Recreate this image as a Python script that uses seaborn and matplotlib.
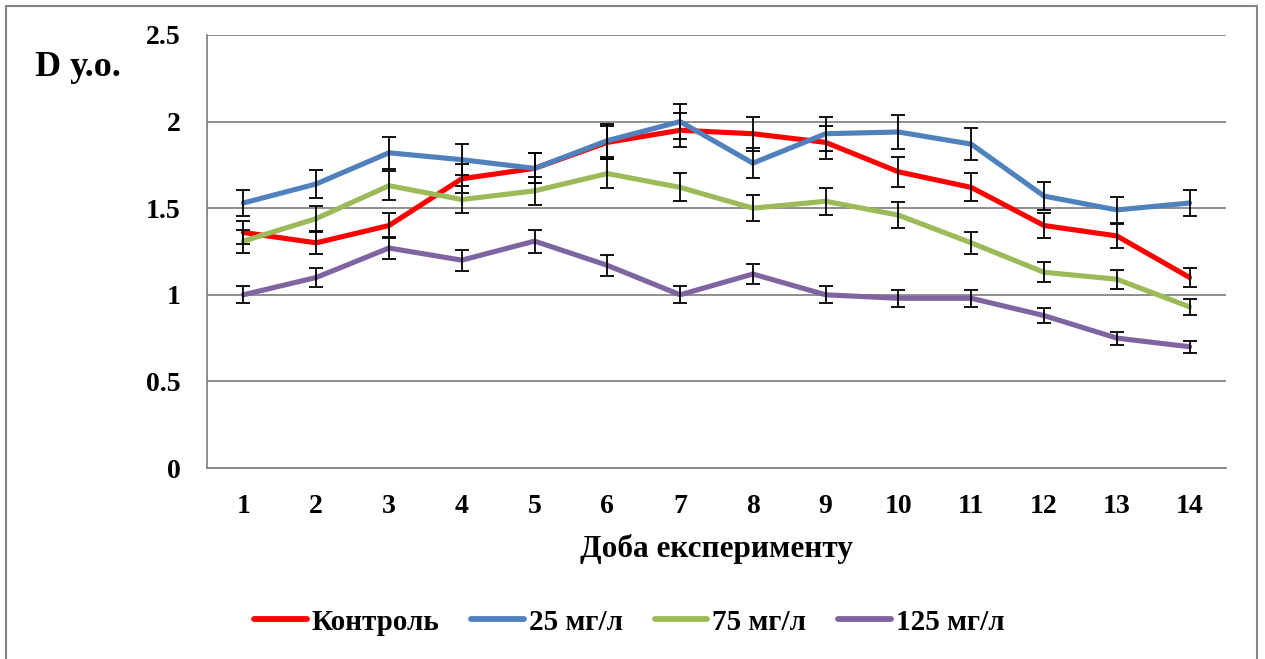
import numpy as np
import pandas as pd
import matplotlib
matplotlib.use("Agg")
import matplotlib.pyplot as plt
import seaborn as sns
from matplotlib.patches import Rectangle

days = [1, 2, 3, 4, 5, 6, 7, 8, 9, 10, 11, 12, 13, 14]
series_names = ["Контроль", "25 мг/л", "75 мг/л", "125 мг/л"]

control = [1.36, 1.30, 1.40, 1.67, 1.73, 1.88, 1.95, 1.93, 1.88, 1.71, 1.62, 1.40, 1.34, 1.10]
c25 = [1.53, 1.64, 1.82, 1.78, 1.73, 1.89, 2.00, 1.76, 1.93, 1.94, 1.87, 1.57, 1.49, 1.53]
c75 = [1.31, 1.44, 1.63, 1.55, 1.60, 1.70, 1.62, 1.50, 1.54, 1.46, 1.30, 1.13, 1.09, 0.93]
c125 = [1.00, 1.10, 1.27, 1.20, 1.31, 1.17, 1.00, 1.12, 1.00, 0.98, 0.98, 0.88, 0.75, 0.70]

err_control = [0.068, 0.065, 0.070, 0.084, 0.087, 0.094, 0.098, 0.097, 0.094, 0.086, 0.081, 0.070, 0.067, 0.055]
err_c25 = [0.077, 0.082, 0.091, 0.089, 0.087, 0.095, 0.100, 0.088, 0.097, 0.097, 0.094, 0.079, 0.075, 0.077]
err_c75 = [0.066, 0.072, 0.082, 0.078, 0.080, 0.085, 0.081, 0.075, 0.077, 0.073, 0.065, 0.057, 0.055, 0.047]
err_c125 = [0.050, 0.055, 0.064, 0.060, 0.066, 0.059, 0.050, 0.056, 0.050, 0.049, 0.049, 0.044, 0.038, 0.035]

colors = ["#FF0000", "#4F81BD", "#9BBB59", "#8064A2"]

values = [control, c25, c75, c125]
errors = [err_control, err_c25, err_c75, err_c125]

rows = []
for name, vals, errs in zip(series_names, values, errors):
    for i, (d, v, e) in enumerate(zip(days, vals, errs)):
        rows.append({"pos": i, "day": d, "value": v, "err": e, "series": name})
df = pd.DataFrame(rows)

sns.set_theme(style="white")
plt.rcParams["font.family"] = ["Liberation Serif", "DejaVu Serif"]
plt.rcParams["font.weight"] = "bold"
plt.rcParams["text.color"] = "black"
plt.rcParams["axes.labelcolor"] = "black"
plt.rcParams["xtick.labelcolor"] = "black"
plt.rcParams["ytick.labelcolor"] = "black"

fig = plt.figure(figsize=(12.65, 6.59), dpi=100)
ax = fig.add_axes([207 / 1265, 1 - 468 / 659, (1226 - 207) / 1265, (468 - 35) / 659])

sns.lineplot(data=df, x="pos", y="value", hue="series", hue_order=series_names,
             palette=colors, linewidth=3.7, ax=ax, legend=True, zorder=3,
             solid_capstyle="round", solid_joinstyle="round")

for name in series_names:
    sub = df[df["series"] == name]
    ax.errorbar(sub["pos"], sub["value"], yerr=sub["err"], fmt="none",
                ecolor="black", elinewidth=1.3, capsize=5, capthick=1.3, zorder=4)

grid_c = "#868686"
ax.set_ylim(0, 2.5)
ax.set_xlim(-0.5, 13.5)
ax.set_yticks([0, 0.5, 1, 1.5, 2, 2.5])
ax.set_yticklabels(["0", "0.5", "1", "1.5", "2", "2.5"])
ax.set_xticks(range(len(days)))
ax.set_xticklabels([str(d) for d in days])
ax.set_xticks(np.arange(-0.5, 14, 1), minor=True)
ax.tick_params(axis="x", which="major", length=0, pad=19, labelsize=20, labelcolor="black")
ax.tick_params(axis="x", which="minor", length=6, width=1.3, color=grid_c, direction="out")
ax.tick_params(axis="y", which="major", length=6, width=1.3, color=grid_c, direction="out", pad=13,
               labelsize=20, labelcolor="black")
ax.yaxis.grid(True, color=grid_c, linewidth=1.3)
ax.xaxis.grid(False)
for lab in ax.get_xticklabels() + ax.get_yticklabels():
    lab.set_fontweight("bold")
ax.spines["top"].set_visible(False)
ax.spines["right"].set_visible(False)
ax.spines["left"].set_color(grid_c)
ax.spines["bottom"].set_color(grid_c)
ax.spines["left"].set_linewidth(1.3)
ax.spines["bottom"].set_linewidth(1.3)

ax.set_ylabel("")
ax.set_xlabel("Доба експерименту", fontsize=22.5, fontweight="bold", color="black")
ax.xaxis.set_label_coords((716 - 207) / (1226 - 207), -(549 - 468) / (468 - 35))
ax.xaxis.label.set_va("center")

fig.text(35 / 1265, 1 - 68 / 659, "D у.о.", fontsize=26, fontweight="bold", ha="left", va="center",
         color="black")

handles, labels = ax.get_legend_handles_labels()
leg = ax.legend(handles, labels, loc="center left", bbox_to_anchor=(254 / 1265, 1 - 622 / 659),
                bbox_transform=fig.transFigure, ncol=4, frameon=False, handlelength=1.8,
                handletextpad=0.17, columnspacing=1.1, borderaxespad=0, borderpad=0,
                prop={"weight": "bold", "size": 21})
for h in leg.get_lines():
    h.set_linewidth(4.2)
for t in leg.get_texts():
    t.set_color("black")

fig.patches.append(Rectangle((6 / 1265, -0.05), (1257 - 6) / 1265, 1.05 - 6 / 659,
                             transform=fig.transFigure, fill=False, edgecolor="#868686",
                             linewidth=1.5, zorder=0))

fig.savefig("out.png", dpi=100)
